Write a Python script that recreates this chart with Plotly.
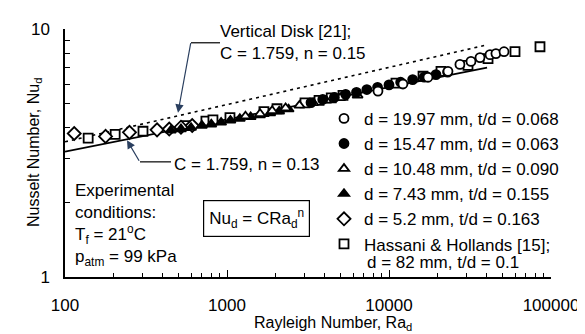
import plotly.graph_objects as go

# ---------------- data ----------------
C_COEF = 1.759
N_DISK = 0.13      # fitted correlation (solid)
N_VERT = 0.15      # vertical disk [21] (dotted)
RA_LINE = [100, 40300]

ra_1997 = [8550, 12190, 17400, 23120, 27400, 32060, 36450, 42030, 45710, 51290]
nu_1997 = [5.62, 6.00, 6.39, 6.75, 7.20, 7.40, 7.67, 7.88, 7.96, 8.10]

ra_1547 = [3300, 3900, 4600, 5400, 6300, 7300, 8500, 10000, 11800, 14000, 16500, 19500, 23000]
nu_1547 = [5.05, 5.20, 5.30, 5.45, 5.55, 5.70, 5.82, 5.95, 6.10, 6.25, 6.40, 6.55, 6.70]

ra_1048 = [1300, 1600, 1900, 2300, 2800, 3400, 4100, 5000, 6400]
nu_1048 = [4.45, 4.55, 4.68, 4.80, 4.92, 5.04, 5.15, 5.28, 5.40]

ra_743 = [450, 520, 600, 700, 800, 920, 1050, 1200, 1400, 1600, 1850, 2100, 2400]
nu_743 = [3.90, 3.95, 4.00, 4.08, 4.13, 4.20, 4.28, 4.35, 4.42, 4.50, 4.58, 4.66, 4.75]

ra_52 = [114, 178, 250, 370, 440, 520, 610]
nu_52 = [3.79, 3.69, 3.83, 3.92, 3.95, 4.02, 4.08]

ra_hh = [139, 204, 303, 558, 741, 819, 1043, 1690, 2035, 3030, 3700, 4400, 5200,
         11040, 16220, 20940, 30730, 40860, 59950, 85500]
nu_hh = [3.63, 3.76, 3.87, 4.08, 4.25, 4.30, 4.39, 4.64, 4.77, 5.04, 5.15, 5.28, 5.40,
         6.05, 6.45, 6.75, 7.13, 7.60, 8.10, 8.48]

x_tick_vals = [100, 1000, 10000, 100000]
x_tick_text = ["100", "1000", "10000", "100000"]
y_tick_vals = [1, 10]
y_tick_text = ["1", "10"]

FONT = "Liberation Sans, Arial, sans-serif"

# ---------------- figure ----------------
fig = go.Figure()

nu_solid = [C_COEF * r ** N_DISK for r in RA_LINE]
nu_dot = [C_COEF * r ** N_VERT for r in RA_LINE]
fig.add_trace(go.Scatter(x=RA_LINE, y=nu_dot, mode="lines", showlegend=False,
                         line=dict(color="black", width=1.6, dash="3px,4px"), hoverinfo="skip"))
fig.add_trace(go.Scatter(x=RA_LINE, y=nu_solid, mode="lines", showlegend=False,
                         line=dict(color="black", width=1.8), hoverinfo="skip"))

def add_series(x, y, name, symbol, fill, rank, size=9):
    fig.add_trace(go.Scatter(
        x=x, y=y, mode="markers", name=name, legendrank=rank,
        marker=dict(symbol=symbol, size=size, color=fill,
                    line=dict(color="black", width=1.8))))

add_series(ra_hh, nu_hh, "Hassani & Hollands [15];", "square", "white", 6)
add_series(ra_52, nu_52, "d = 5.2 mm, t/d = 0.163", "diamond", "white", 5, size=10)
add_series(ra_743, nu_743, "d = 7.43 mm, t/d = 0.155", "triangle-up", "black", 4)
add_series(ra_1048, nu_1048, "d = 10.48 mm, t/d = 0.090", "triangle-up", "white", 3)
add_series(ra_1547, nu_1547, "d = 15.47 mm, t/d = 0.063", "circle", "black", 2)
add_series(ra_1997, nu_1997, "d = 19.97 mm, t/d = 0.068", "circle", "white", 1)

L, T, R, B = 57, 17, 543, 269
W_PLOT, H_PLOT = R - L, B - T

def px(x):
    return (x - L) / W_PLOT

def py(y):
    return (B - y) / H_PLOT

shapes = [
    dict(type="line", xref="paper", yref="paper", x0=px(183), y0=py(31), x1=px(212), y1=py(31),
         line=dict(color="black", width=1.2)),
    dict(type="line", xref="paper", yref="paper", x0=px(132), y0=py(152), x1=px(163), y1=py(152),
         line=dict(color="black", width=1.2)),
]

annotations = [
    dict(xref="paper", yref="paper", x=px(170), y=py(102), ax=13, ay=-71,
         showarrow=True, arrowhead=2, arrowsize=1.4, arrowwidth=1.2, text=""),
    dict(xref="paper", yref="paper", x=px(119), y=py(130), ax=13, ay=22,
         showarrow=True, arrowhead=2, arrowsize=1.4, arrowwidth=1.2, text=""),
    dict(xref="paper", yref="paper", x=px(210), y=py(31), xanchor="left", yanchor="middle",
         align="left", showarrow=False, text="Vertical Disk [21];<br>C = 1.759, n = 0.15"),
    dict(xref="paper", yref="paper", x=px(164), y=py(155), xanchor="left", yanchor="middle",
         showarrow=False, text="C = 1.759, n = 0.13"),
    dict(xref="paper", yref="paper", x=px(65), y=py(216), xanchor="left", yanchor="middle",
         align="left", showarrow=False,
         text="Experimental<br>conditions:<br>T<sub>f</sub> = 21<sup>o</sup>C<br>p<sub>atm</sub> = 99 kPa"),
    dict(xref="paper", yref="paper", x=px(248), y=py(210), xanchor="center", yanchor="middle",
         showarrow=False, bordercolor="black", borderwidth=1.2, borderpad=5,
         text="Nu<sub>d</sub> = CRa<sub>d</sub><sup>n</sup>"),
    dict(xref="paper", yref="paper", x=px(357), y=py(254), xanchor="left", yanchor="middle",
         showarrow=False, text="d = 82 mm, t/d = 0.1"),
    dict(xref="paper", yref="paper", x=px(325), y=py(316), xanchor="center", yanchor="middle",
         showarrow=False, font=dict(size=16), text="Rayleigh Number, Ra<sub>d</sub>"),
    dict(xref="paper", yref="paper", x=px(26), y=0.5, xanchor="center", yanchor="middle",
         showarrow=False, textangle=-90, font=dict(size=16),
         text="Nusselt Number, Nu<sub>d</sub>"),
]

minor_x = [m * 10 ** k for k in (2, 3, 4) for m in range(2, 10)]
minor_y = list(range(2, 10))

fig.update_layout(
    width=585, height=334,
    margin=dict(l=L, r=585 - R, t=T, b=334 - B),
    paper_bgcolor="white", plot_bgcolor="white",
    font=dict(family=FONT, size=17, color="black"),
    showlegend=True,
    legend=dict(x=px(316), y=py(90), xanchor="left", yanchor="top", valign="top",
                bgcolor="rgba(0,0,0,0)", font=dict(size=17), itemwidth=30,
                tracegroupgap=0),
    shapes=shapes,
    annotations=annotations,
)

fig.update_xaxes(type="log", range=[2, 5], showline=True, linecolor="black", linewidth=1.5,
                 ticks="inside", ticklen=7, tickwidth=1.2, tickcolor="black",
                 tickvals=x_tick_vals, ticktext=x_tick_text, showgrid=False, zeroline=False,
                 ticklabelstandoff=12,
                 minor=dict(tickmode="array", tickvals=minor_x, ticks="inside", ticklen=4,
                            tickwidth=1.2, tickcolor="black", showgrid=False))
fig.update_yaxes(type="log", range=[0, 1], showline=True, linecolor="black", linewidth=1.5,
                 ticks="inside", ticklen=7, tickwidth=1.2, tickcolor="black",
                 tickvals=y_tick_vals, ticktext=y_tick_text, showgrid=False, zeroline=False,
                 ticklabelstandoff=10,
                 minor=dict(tickmode="array", tickvals=minor_y, ticks="inside", ticklen=5,
                            tickwidth=1.2, tickcolor="black", showgrid=False))

fig.write_html("out.html")
